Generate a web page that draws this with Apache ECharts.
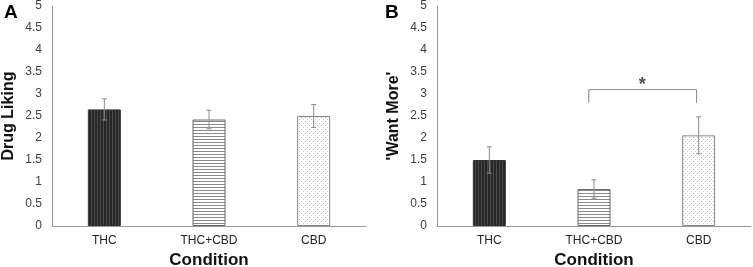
<!DOCTYPE html>
<html>
<head>
<meta charset="utf-8">
<script src="https://cdn.jsdelivr.net/npm/echarts@6/dist/echarts.min.js"></script>
<style>
  html, body { margin: 0; padding: 0; background: #fff; }
  #chart { width: 753px; height: 267px; }
</style>
</head>
<body>
<div id="chart"></div>
<script>
// data
var categories = ['THC', 'THC+CBD', 'CBD']
var likingMean = [2.65, 2.42, 2.5]
var likingErr = [0.24, 0.21, 0.26]
var wantMean = [1.5, 0.84, 2.06]
var wantErr = [0.3, 0.21, 0.42]
// significance bracket between THC+CBD and CBD (x in category units)
var bracketX = [0.95, 1.98]
var bracketY = [2.8, 3.1]
var starPos = [1.46, 3.2]

var FONT = '"Liberation Sans", Arial, sans-serif'

// bar fill patterns
function makePattern(kind) {
  var c = document.createElement('canvas')
  var ctx = c.getContext('2d')
  if (kind === 'vert') {
    c.width = 3; c.height = 2
    ctx.fillStyle = '#262626'; ctx.fillRect(0, 0, 3, 2)
    ctx.fillStyle = '#4c4c4c'; ctx.fillRect(1, 0, 1, 2)
  } else if (kind === 'horiz') {
    c.width = 2; c.height = 3
    ctx.fillStyle = '#ffffff'; ctx.fillRect(0, 0, 2, 3)
    ctx.fillStyle = '#8a8a8a'; ctx.fillRect(0, 1, 2, 1)
  } else {
    c.width = 4; c.height = 4
    ctx.fillStyle = '#ffffff'; ctx.fillRect(0, 0, 4, 4)
    ctx.fillStyle = '#b5b5b5'; ctx.fillRect(1, 1, 1, 1)
    ctx.fillStyle = '#d0d0d0'; ctx.fillRect(3, 3, 1, 1)
  }
  return { image: c, repeat: 'repeat' }
}
var fills = [makePattern('vert'), makePattern('horiz'), makePattern('dots')]
var borders = ['#333333', '#666666', '#888888']

function barData(vals) {
  return vals.map(function (v, i) {
    return { value: v, itemStyle: { color: fills[i], borderColor: borders[i], borderWidth: 1 } }
  })
}
function errData(means, errs) {
  return means.map(function (m, i) { return [i, m, errs[i]] })
}
function renderErr(params, api) {
  var x = api.value(0), m = api.value(1), e = api.value(2)
  var top = api.coord([x, m + e])
  var bot = api.coord([x, m - e])
  var hw = 2.5
  var st = { stroke: '#8c8c8c', lineWidth: 1 }
  return {
    type: 'group',
    children: [
      { type: 'line', shape: { x1: top[0], y1: top[1], x2: bot[0], y2: bot[1] }, style: st },
      { type: 'line', shape: { x1: top[0] - hw, y1: top[1], x2: top[0] + hw, y2: top[1] }, style: st },
      { type: 'line', shape: { x1: bot[0] - hw, y1: bot[1], x2: bot[0] + hw, y2: bot[1] }, style: st }
    ]
  }
}

function xAxisCfg(idx) {
  return {
    type: 'category',
    gridIndex: idx,
    data: categories,
    name: 'Condition',
    nameLocation: 'middle',
    nameGap: 26,
    nameTextStyle: { fontFamily: FONT, fontWeight: 'bold', fontSize: 17, color: '#111' },
    axisLine: { onZero: false, lineStyle: { color: '#999999', width: 1 } },
    axisTick: { show: false },
    axisLabel: { fontFamily: FONT, fontSize: 12, color: '#222', margin: 9 }
  }
}
function yAxisCfg(idx, name) {
  return {
    type: 'value',
    gridIndex: idx,
    min: 0,
    max: 5,
    interval: 0.5,
    name: name,
    nameLocation: 'middle',
    nameGap: 35,
    nameTextStyle: { fontFamily: FONT, fontWeight: 'bold', fontSize: 16, color: '#111' },
    axisLine: { show: true, onZero: false, lineStyle: { color: '#999999', width: 1 } },
    axisTick: { show: false },
    splitLine: { show: false },
    axisLabel: { fontFamily: FONT, fontSize: 12, color: '#404040', margin: 10 }
  }
}

var chart = echarts.init(document.getElementById('chart'))
chart.setOption({
  animation: false,
  backgroundColor: '#fff',
  title: [
    { text: 'A', left: -1, top: -2, textStyle: { fontFamily: FONT, fontWeight: 'bold', fontSize: 19, color: '#000' } },
    { text: 'B', left: 380, top: -2, textStyle: { fontFamily: FONT, fontWeight: 'bold', fontSize: 19, color: '#000' } }
  ],
  grid: [
    { left: 52, right: 387, top: 6, bottom: 41, containLabel: false, outerBoundsMode: 'none' },
    { left: 437, right: 2, top: 6, bottom: 41, containLabel: false, outerBoundsMode: 'none' }
  ],
  xAxis: [
    xAxisCfg(0),
    xAxisCfg(1),
    { type: 'value', gridIndex: 1, min: -0.5, max: 2.5, show: false }
  ],
  yAxis: [
    yAxisCfg(0, 'Drug Liking'),
    yAxisCfg(1, "'Want More'")
  ],
  series: [
    { type: 'bar', xAxisIndex: 0, yAxisIndex: 0, barWidth: 33, data: barData(likingMean), silent: true },
    { type: 'custom', xAxisIndex: 0, yAxisIndex: 0, data: errData(likingMean, likingErr), renderItem: renderErr, z: 5, silent: true },
    { type: 'bar', xAxisIndex: 1, yAxisIndex: 1, barWidth: 33, data: barData(wantMean), silent: true },
    { type: 'custom', xAxisIndex: 1, yAxisIndex: 1, data: errData(wantMean, wantErr), renderItem: renderErr, z: 5, silent: true },
    {
      type: 'line', xAxisIndex: 2, yAxisIndex: 1, symbol: 'none', silent: true,
      lineStyle: { color: '#8c8c8c', width: 1 },
      data: [[bracketX[0], bracketY[0]], [bracketX[0], bracketY[1]], [bracketX[1], bracketY[1]], [bracketX[1], bracketY[0]]]
    },
    {
      type: 'scatter', xAxisIndex: 2, yAxisIndex: 1, symbolSize: 0, silent: true,
      data: [starPos],
      label: { show: true, position: 'inside', formatter: '*', fontFamily: FONT, fontSize: 18, fontWeight: 'bold', color: '#222' }
    }
  ]
})
</script>
</body>
</html>
